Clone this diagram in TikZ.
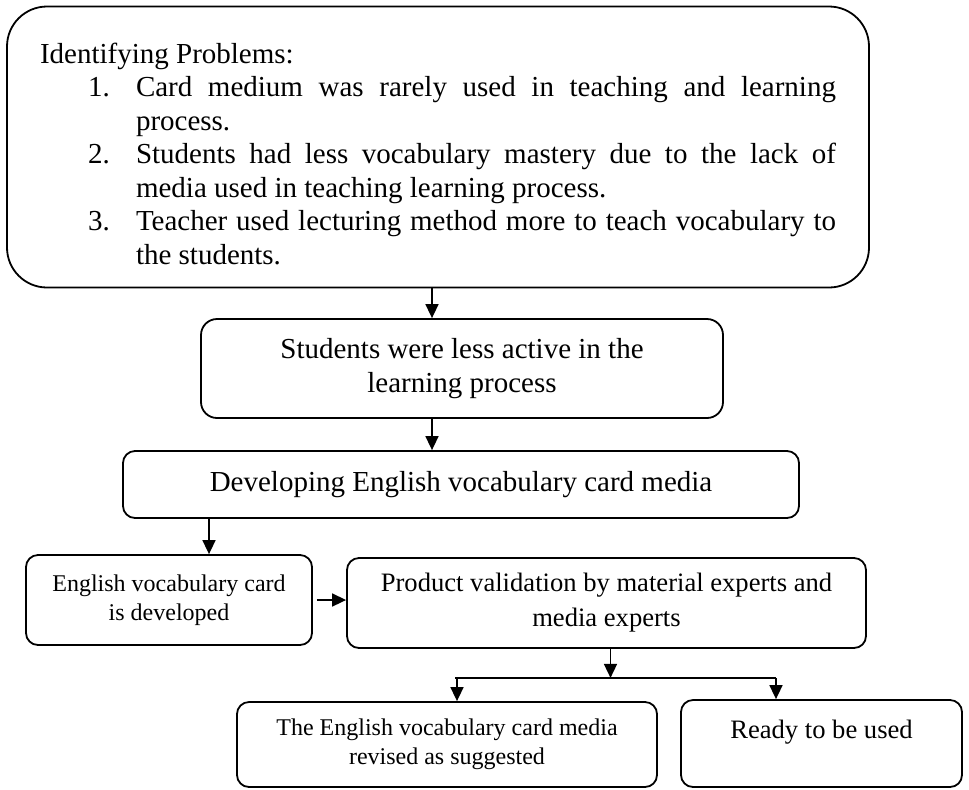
\documentclass[tikz,border=0pt]{standalone}
\usepackage{fontspec}
\setmainfont{Liberation Serif}
\usepackage{enumitem}
\usepackage{xcolor}
\usepackage{tikz}
\usetikzlibrary{shapes,arrows,positioning,calc,arrows.meta}

\newcommand{\txtL}{\fontsize{14.5pt}{16.75pt}\selectfont}
\newcommand{\txtM}{\fontsize{13.3pt}{17.5pt}\selectfont}
\newcommand{\txtS}{\fontsize{12pt}{14.5pt}\selectfont}

\tikzset{
    box/.style={draw, rounded corners=6pt, line width=0.9pt, align=center, inner sep=3pt},
    arr/.style={-{Triangle[length=7pt,width=6.5pt]}, line width=0.8pt}
}

\begin{document}
\begin{tikzpicture}[x=0.5pt,y=-0.5pt]
    \useasboundingbox (0,0) rectangle (969,789);
    % top box with the list of problems
    \node[box, rounded corners=20pt, font=\txtL, text width=398pt, align=justify,
          inner xsep=16.5pt, minimum height=140.5pt] (prob) at (438,147) {%
        \noindent\rule{0pt}{17pt}Identifying Problems:
        \begin{enumerate}[leftmargin=48pt,labelwidth=24pt,labelsep=0pt,align=left,nosep]
            \item Card medium was rarely used in teaching and learning\linebreak process.
            \item Students had less vocabulary mastery due to the lack of\linebreak media used in teaching learning process.
            \item Teacher used lecturing method more to teach vocabulary to\linebreak the students.
        \end{enumerate}};
    \node[box, rounded corners=8pt, font=\txtL, minimum width=261pt, minimum height=49.5pt] (pasif) at (462,368.5)
        {Students were less active in the\\learning process};
    \node[box, font=\txtL, minimum width=338pt, minimum height=33.5pt] (dev) at (461,484.5)
        {Developing English vocabulary card media};
    \node[box, font=\txtS, minimum width=143pt, minimum height=45pt] (card) at (169,600)
        {English vocabulary card\\is developed};
    \node[box, font=\txtM, minimum width=259.5pt, minimum height=45pt] (valid) at (606.5,603)
        {Product validation by material experts and\\media experts};
    \node[box, font=\txtS, minimum width=210pt, minimum height=42.5pt] (revise) at (447,744.5)
        {The English vocabulary card media\\revised as suggested};
    \node[box, font=\txtM, minimum width=140.5pt, inner ysep=5pt, text height=14pt, text depth=19.5pt] (ready) at (821.5,743.5)
        {Ready to be used};

    % connectors
    \draw[arr] ([xshift=-15pt]pasif.north |- prob.south) -- ([xshift=-15pt]pasif.north);
    \draw[arr] ([xshift=-15pt]pasif.south) -- ([xshift=-15pt]pasif.south |- dev.north);
    \draw[arr] ([xshift=20pt]card.north |- dev.south) -- ([xshift=20pt]card.north);
    \draw[arr] ([xshift=2pt]card.east) -- (valid.west |- card.east);
    \coordinate (fork) at ([xshift=2pt,yshift=-14.5pt]valid.south);
    \draw[arr] (valid.south -| fork) -- (fork);
    \draw[line width=0.8pt] ([xshift=4pt]revise.north |- fork) -- ([xshift=-22.75pt]ready.north |- fork);
    \draw[arr] ([xshift=5pt]revise.north |- fork) -- ([xshift=5pt]revise.north);
    \draw[arr] ([xshift=-22.75pt]ready.north |- fork) -- ([xshift=-22.75pt]ready.north);
\end{tikzpicture}
\end{document}
